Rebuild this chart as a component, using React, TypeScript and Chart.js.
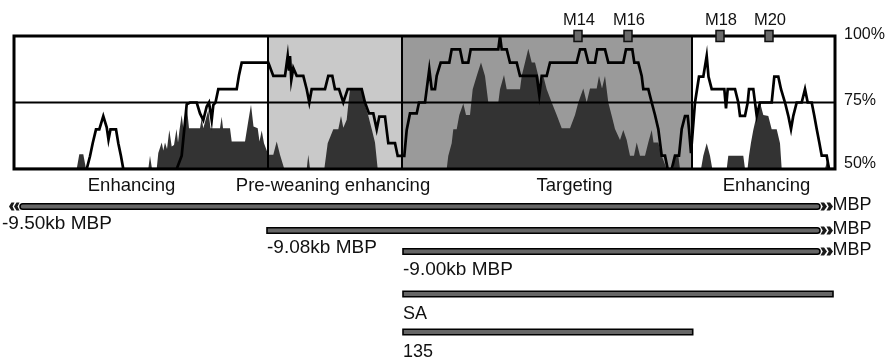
import React, { useEffect, useRef } from "react";
import { Chart, registerables } from "chart.js";

Chart.register(...registerables);

// ---- data (x in sequence-position units, y in % identity) ----
const lineX = [0,72.7,76,78.7,82,85.3,89.3,92.7,94.5,96.5,102,104.3,107,109.3,162.7,167.7,172.7,176,182.7,186,189.3,192.7,195,197.7,199.3,201.5,204.3,222.7,225,227.7,254.3,259.3,271,273.7,275,276,277.3,279.3,282.7,289.3,292.7,295.3,297.7,311,314.3,318.3,321,325,329.3,333.7,347.7,351,355,359.3,362.7,365.3,371,374.3,381,383.7,390.3,392.7,396,402.7,405,411,415.3,417.7,421,422.7,426.7,435.3,437.7,446,448.7,454.3,456.7,484.3,486,487.7,492.7,496,502.7,506,522.7,525.3,527.7,532.7,536,562.7,566,571,574.3,581,583.3,591,594.3,609.3,612,618.3,620.3,624.3,627.7,629.3,634.3,637.7,641,644.3,647.7,651,653.7,657.7,661,665,667.7,671,673.7,675,677,681,685,689.3,692.7,694.5,697.7,710.3,712,713.7,721,724.3,726,731,733.7,735,739.3,742.7,746,757.7,760.3,764.3,767,771,774.3,777,779.3,782.7,787.7,791,793.7,797.7,800.3,802.7,805.3,807.7,812.7,815,821];
const lineY = [50,50,54.8,59.7,64.9,64.9,69.9,65.7,61,64.9,64.9,59.7,54.8,50,50,55,74.3,75,75,70.9,68.4,73.5,75,68.4,74,75,80,80,85.3,90,90,85,85,92.5,87,92.5,83.5,88,85,85,80,75,80,80,85,85,80,80,75,80,80,75,70.9,70.9,64.9,69.7,69.7,59.7,59.7,54.9,54.9,64.7,70.9,70.9,75,75,87.5,80,80,85,90,90,95,95,90,90,95,95,100,95,95,90,90,85,85,77.8,85,85,90,90,95,95,90,90,95,95,90,90,95,95,90,90,85,80,80,75,70.3,65,55,55,50,50,55,55,65,69.9,69.9,65,56,75,84.7,84.7,92.5,84.7,80,80,72.8,80,80,75,70,70,75,80,80,70,75,75,84.7,84.7,80,75,70,65,70,75,75,80,75,75,70,65,60,55,55,50,50];

const areaX = [0,62.7,65.3,69.3,72,134.3,136,138,142.7,144.3,147.7,149.3,151,153,155.3,157.7,160,162.5,164,165.5,167.7,169.5,172.7,175,186,187.7,189.3,194.3,196.5,206,207.7,209,216,217.7,231,234.3,237,239.5,243.7,245.5,247.7,250,254.3,259.3,262.7,266,270.3,292.7,294.3,296,310.3,313.7,319.3,324.3,327,329.3,332.7,334.3,336,347.7,351,354.3,357.7,361,363.7,432.7,434.3,437.7,439.3,442.7,445.3,449.3,452,456,458.7,462.7,467,471,474.3,484.3,486,490,492.7,506,507.7,511,514.3,517.7,521,524.3,526,529.3,532.7,537.7,542.7,547.7,556,561,564.3,569.3,572.7,576,582.7,585,588,591,594.3,597.7,601,606,609.3,612.7,614.3,616,620,622.7,626,631,634.3,637.7,639.5,644.3,647.7,652.7,659,661,664.3,666,687,689.3,692.7,696,698.3,712.7,714.3,717.7,729.3,731,733.5,735,737,739.3,742.7,746,749.3,754.3,757.7,762.7,766,767.7,811,813.7,816,821];
const areaY = [50,50,55.5,55.5,50,50,55,50,50,56,60,57,60,57.5,64.7,58.5,59,65,60,64.7,70.3,64.7,74,65.3,65.3,69,65.3,72.2,65.3,65.3,69.6,65.3,65.3,60.3,60.3,68,74.2,66,65.3,60.3,64.5,59.7,55.4,55.4,60.3,55.4,50,50,55.4,50,50,59.7,64.9,64.9,69.9,65.5,68.5,74.3,80,80,74,70,65,60,50,50,55,59.7,64.9,64.9,70.3,74.6,70.3,70.3,80,85,90,85,75,75,80,85.3,80,80,85,90,95.2,90,90,85,80,85,80,75,70.3,65.3,65.3,70.3,75,80.3,75,80.3,80.3,85,80.3,85,75,70,65,60.9,64.7,60.9,58,55,55,60,55,55,60,64.7,60,60,55,50,50,55,55,50,50,55,59.7,55,50,50,55,55,55,50,50,55,60,64.7,70.3,75,70.3,69.9,64.9,64.9,59.7,50,50,54,50,50];

const regionStart = [0, 254, 388, 678];
const regionEnd = [254, 388, 678, 821];
const regionLabels = ["Enhancing", "Pre-weaning enhancing", "Targeting", "Enhancing"];
const regionLabelPos = [117.5, 319, 560.5, 752.5];

const markerNames = ["M14", "M16", "M18", "M20"];
const markerPos = [564, 614, 706, 755];

const percentTicks = [100, 75, 50];
const thresholdValue = 75;

const barNames = ["-9.50kb MBP", "-9.08kb MBP", "-9.00kb MBP", "SA", "135"];
const barStart = [6, 253, 389, 389, 389];
const barEnd = [806, 806, 806, 819, 678.7];
const barArrowLeft = [true, false, false, false, false];
const barArrowRight = [true, true, true, false, false];
const arrowSuffix = "MBP";

// ---- styles / layout ----
const FONT = '"Liberation Sans", Arial, Helvetica, sans-serif';
const regionColors = ["#ffffff", "#c9c9c9", "#9a9a9a", "#ffffff"];
const barRowY = [206.5, 230.5, 251.5, 294, 332];
const barLabelFont = [19, 19, 19, 18, 18];
const barLabelDrop = [22.5, 22.5, 23.5, 24.5, 24.5];

function chevron(ctx: CanvasRenderingContext2D, x: number, y: number, dir: number, w: number, h: number) {
  ctx.beginPath();
  ctx.moveTo(x, y - h / 2);
  ctx.lineTo(x + dir * w * 0.55, y - h / 2);
  ctx.lineTo(x + dir * w, y);
  ctx.lineTo(x + dir * w * 0.55, y + h / 2);
  ctx.lineTo(x, y + h / 2);
  ctx.lineTo(x + dir * w * 0.35, y);
  ctx.closePath();
  ctx.fill();
}

const figurePlugin = {
  id: "figure",
  beforeDraw(chart: any) {
    const ctx = chart.ctx;
    ctx.save();
    ctx.fillStyle = "#ffffff";
    ctx.fillRect(0, 0, chart.width, chart.height);
    ctx.restore();
  },
  beforeDatasetsDraw(chart: any) {
    const { ctx, chartArea } = chart;
    const xs = chart.scales.x;
    ctx.save();
    regionStart.forEach((s, i) => {
      const a = xs.getPixelForValue(s);
      const b = xs.getPixelForValue(regionEnd[i]);
      ctx.fillStyle = regionColors[i];
      ctx.fillRect(a, chartArea.top, b - a, chartArea.bottom - chartArea.top);
    });
    ctx.restore();
  },
  afterDatasetDraw(chart: any, args: any) {
    if (args.index !== 1) return;
    const { ctx, chartArea } = chart;
    const xs = chart.scales.x;
    const ys = chart.scales.y;
    ctx.save();
    ctx.strokeStyle = "#000";
    ctx.lineWidth = 2;
    const y75 = ys.getPixelForValue(thresholdValue);
    ctx.beginPath();
    ctx.moveTo(chartArea.left, y75);
    ctx.lineTo(chartArea.right, y75);
    ctx.stroke();
    regionStart.slice(1).forEach((s) => {
      const px = xs.getPixelForValue(s);
      ctx.beginPath();
      ctx.moveTo(px, chartArea.top);
      ctx.lineTo(px, chartArea.bottom);
      ctx.stroke();
    });
    ctx.restore();
  },
  afterDatasetsDraw(chart: any) {
    const { ctx, chartArea } = chart;
    const xs = chart.scales.x;
    const ys = chart.scales.y;
    ctx.save();
    // frame
    ctx.strokeStyle = "#000";
    ctx.lineWidth = 3;
    ctx.strokeRect(chartArea.left, chartArea.top, chartArea.right - chartArea.left, chartArea.bottom - chartArea.top);

    // markers
    markerPos.forEach((m, i) => {
      const px = xs.getPixelForValue(m);
      ctx.fillStyle = "#6a6a6a";
      ctx.strokeStyle = "#111";
      ctx.lineWidth = 1.5;
      ctx.fillRect(px - 4, chartArea.top - 5.5, 8, 11);
      ctx.strokeRect(px - 4, chartArea.top - 5.5, 8, 11);
      ctx.fillStyle = "#111";
      ctx.font = `16.5px ${FONT}`;
      ctx.textAlign = "center";
      ctx.textBaseline = "alphabetic";
      ctx.fillText(markerNames[i], px + 1, chartArea.top - 11);
    });

    // percent labels
    ctx.fillStyle = "#111";
    ctx.font = `16px ${FONT}`;
    ctx.textAlign = "left";
    ctx.textBaseline = "middle";
    percentTicks.forEach((v) => {
      const py = Math.min(ys.getPixelForValue(v) - 1.5, chartArea.bottom - 5);
      ctx.fillText(v + "%", chartArea.right + 9, py);
    });

    // region labels
    ctx.font = `18.5px ${FONT}`;
    ctx.textAlign = "center";
    ctx.textBaseline = "alphabetic";
    regionLabels.forEach((t, i) => {
      ctx.fillText(t, xs.getPixelForValue(regionLabelPos[i]), chartArea.bottom + 22);
    });

    // construct bars
    barNames.forEach((name, i) => {
      const x0 = xs.getPixelForValue(barStart[i]);
      const x1 = xs.getPixelForValue(barEnd[i]);
      const yc = barRowY[i];
      const h = 5.5;
      const rl = barArrowLeft[i] ? 3 : 0;
      const rr = barArrowRight[i] ? 3 : 0;
      ctx.beginPath();
      ctx.roundRect(x0, yc - h / 2, x1 - x0, h, [rl, rr, rr, rl]);
      ctx.fillStyle = "#666666";
      ctx.fill();
      ctx.lineWidth = 1.6;
      ctx.strokeStyle = "#000";
      ctx.stroke();
      ctx.fillStyle = "#1a1a1a";
      if (barArrowRight[i]) {
        chevron(ctx, x1 + 0.5, yc, 1, 6.5, 8);
        chevron(ctx, x1 + 6.5, yc, 1, 6.5, 8);
        ctx.fillStyle = "#111";
        ctx.font = `18px ${FONT}`;
        ctx.textAlign = "left";
        ctx.textBaseline = "middle";
        ctx.fillText(arrowSuffix, x1 + 12.5, yc - 1);
      }
      let labelX = x0;
      if (barArrowLeft[i]) {
        ctx.fillStyle = "#1a1a1a";
        chevron(ctx, x0 - 0.5, yc, -1, 5.5, 8);
        chevron(ctx, x0 - 5.5, yc, -1, 5.5, 8);
        labelX = x0 - 18;
      }
      ctx.fillStyle = "#111";
      ctx.font = `${barLabelFont[i]}px ${FONT}`;
      ctx.textAlign = "left";
      ctx.textBaseline = "alphabetic";
      ctx.fillText(name, labelX, yc + barLabelDrop[i]);
    });
    ctx.restore();
  },
};

export default function App() {
  const ref = useRef<HTMLCanvasElement | null>(null);
  useEffect(() => {
    if (!ref.current) return;
    const linePts = lineX.map((x, i) => ({ x, y: lineY[i] }));
    const areaPts = areaX.map((x, i) => ({ x, y: areaY[i] }));
    const chart = new Chart(ref.current, {
      type: "line",
      data: {
        datasets: [
          {
            label: "Identity",
            data: linePts,
            borderColor: "#000",
            borderWidth: 2.7,
            pointRadius: 0,
            fill: false,
            tension: 0,
            order: 0,
          },
          {
            label: "Conservation",
            data: areaPts,
            borderColor: "rgba(0,0,0,0)",
            borderWidth: 0,
            backgroundColor: "#333333",
            pointRadius: 0,
            fill: "start",
            tension: 0,
            order: 1,
          },
        ],
      },
      options: {
        responsive: false,
        animation: false,
        layout: { padding: { left: 14, right: 58, top: 36, bottom: 189 } },
        scales: {
          x: { type: "linear", min: 0, max: 821, display: false },
          y: { type: "linear", min: 50, max: 100, display: false },
        },
        plugins: { legend: { display: false }, tooltip: { enabled: false } },
      },
      plugins: [figurePlugin],
    } as any);
    return () => chart.destroy();
  }, []);
  return (
    <div style={{ position: "fixed", left: 0, top: 0, width: 893, height: 358, background: "#fff" }}>
      <canvas ref={ref} width={893} height={358} style={{ display: "block", width: 893, height: 358 }} />
    </div>
  );
}
